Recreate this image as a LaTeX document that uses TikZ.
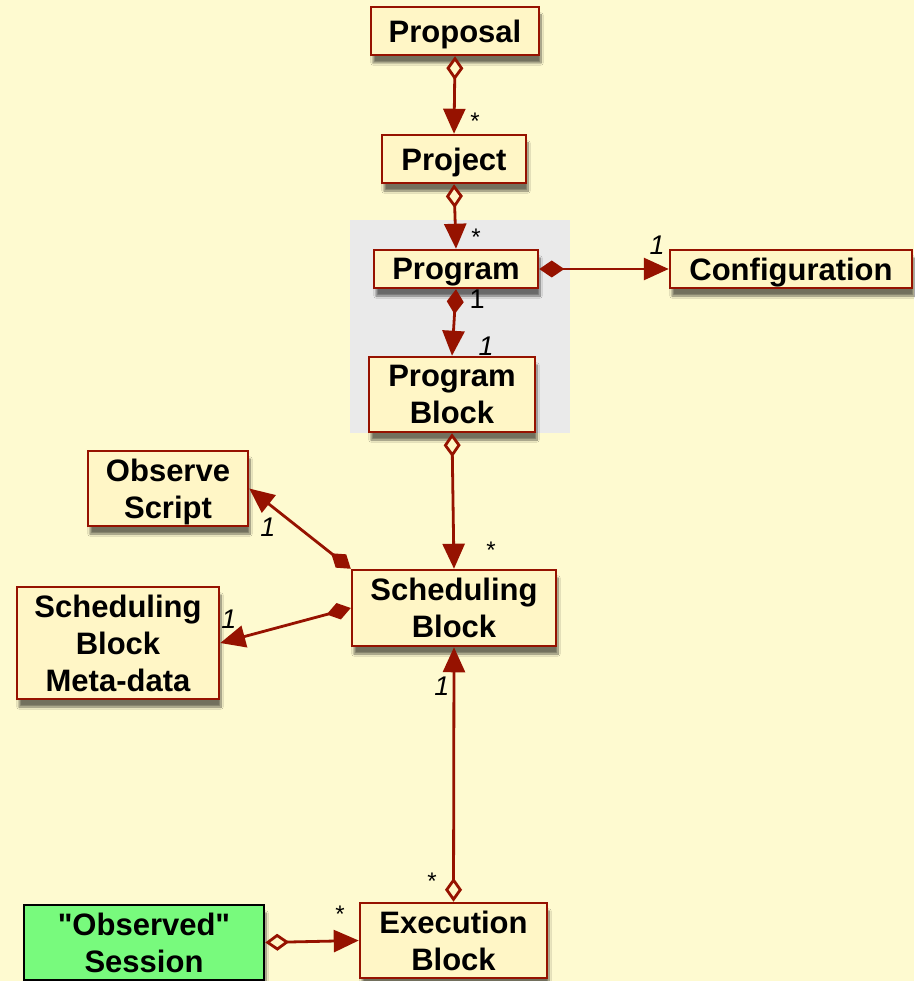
\documentclass[tikz,border=0pt]{standalone}
\usepackage{fontspec}
\newfontfamily\boxfont{Liberation Sans}
\setmainfont{Liberation Sans}
\usetikzlibrary{arrows.meta,shadows.blur}
\definecolor{bgcol}{RGB}{254,250,208}
\definecolor{boxfill}{RGB}{255,246,198}
\definecolor{linecol}{RGB}{150,18,0}
\definecolor{grpcol}{RGB}{234,234,234}
\definecolor{greenfill}{RGB}{120,250,125}
\tikzset{
  box/.style={draw=linecol, fill=boxfill, line width=2.5pt, align=center, inner sep=0pt,
    font=\boxfont\fontsize{31}{37}\selectfont\bfseries, text depth=0pt,
    blur shadow={shadow xshift=2pt, shadow yshift=-8pt, shadow blur steps=10, shadow opacity=55}},
  greenbox/.style={box, draw=black, fill=greenfill},
  conn/.style={draw=linecol, line width=2.8pt},
  odia/.tip={Diamond[open, length=24pt, width=17pt, fill=boxfill]},
  fdia/.tip={Diamond[length=25pt, width=17pt]},
  tri/.tip={Triangle[length=25pt, width=22pt]},
  mult/.style={font=\fontsize{24}{24}\selectfont, inner sep=0pt},
  umult/.style={font=\fontsize{27}{27}\selectfont, inner sep=0pt},
  imult/.style={font=\fontsize{27}{27}\selectfont\itshape, inner sep=0pt},
}
\begin{document}
\begin{tikzpicture}[x=1pt,y=-1pt]
\fill[bgcol] (0,0) rectangle (914,981);
\useasboundingbox (0,0) rectangle (914,981);
\node[fill=grpcol, minimum width=220pt, minimum height=213pt, inner sep=0pt] (grp) at (460,326.5) {};

\node[box, minimum width=168pt, minimum height=48pt] (prop) at (455,31) {Proposal};
\node[box, minimum width=144pt, minimum height=48pt] (proj) at (454,159) {Project};
\node[box, minimum width=164pt, minimum height=38pt] (prog) at (456,269) {Program};
\node[box, minimum width=242pt, minimum height=38pt] (conf) at (791,269) {Configuration};
\node[box, minimum width=166pt, minimum height=75pt] (pb) at (452,394.5) {Program\\Block};
\node[box, minimum width=160pt, minimum height=75pt] (os) at (168,488.5) {Observe\\Script};
\node[box, minimum width=204pt, minimum height=76pt] (sb) at (454,608) {Scheduling\\Block};
\node[box, minimum width=202pt, minimum height=112pt] (meta) at (118,643) {Scheduling\\Block\\Meta-data};
\node[greenbox, minimum width=240pt, minimum height=75pt] (sess) at (144,942.5) {"Observed"\\Session};
\node[box, minimum width=187pt, minimum height=75pt] (eb) at (453.5,940.5) {Execution\\Block};

\draw[conn, odia-tri] (prop.south) -- (proj.north);
\draw[conn, odia-tri] (proj.south) -- (prog.north);
\draw[conn, fdia-tri] (prog.east) -- (conf.west);
\draw[conn, fdia-tri] (prog.south) -- (pb.north);
\draw[conn, odia-tri] (pb.south) -- (sb.north);
\draw[conn, fdia-tri] (sb.north west) -- (os.east);
\draw[conn, fdia-tri] (sb.west) -- (meta.east);
\draw[conn, odia-tri] (eb.north) -- (sb.south);
\draw[conn, odia-tri] (sess.east) -- (eb.west);

\node[mult] (l1) at (475,121) {*};
\node[mult] (l2) at (476,237) {*};
\node[imult] (l3) at (657,245) {1};
\node[umult] (l4) at (477,299) {1};
\node[imult] (l5) at (486,346) {1};
\node[mult] (l6) at (491,550) {*};
\node[imult] (l7) at (268,527) {1};
\node[imult] (l8) at (229,619) {1};
\node[imult] (l9) at (442,686) {1};
\node[mult] (l10) at (432,881) {*};
\node[mult] (l11) at (340,914) {*};
\end{tikzpicture}
\end{document}
